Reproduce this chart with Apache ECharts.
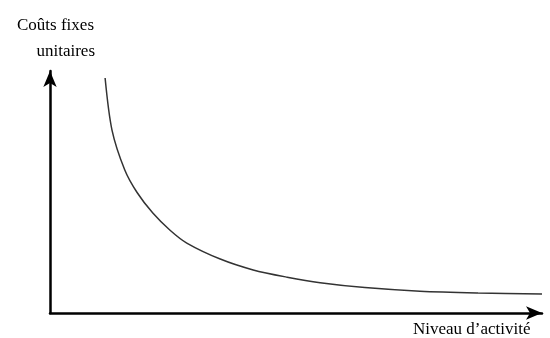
<!DOCTYPE html>
<html>
<head>
<meta charset="utf-8">
<script src="https://cdn.jsdelivr.net/npm/echarts@6/dist/echarts.min.js"></script>
<style>
  html, body { margin: 0; padding: 0; background: #fff; }
  #myChart { width: 550px; height: 338px; }
</style>
</head>
<body>
<!-- courbe des coûts fixes unitaires -->
<div id="myChart"></div>
<script>
// niveau d'activité (axe x, 0..100)
const activite = [11.2, 12.6, 15.2, 17.7, 20.9, 24.4, 27.8, 34.6, 41.3, 48.2, 54.9, 64.0, 75.2, 87.0, 100]
// coûts fixes unitaires (axe y, 0..100)
const couts = [97.1, 75.6, 59.1, 49.8, 41.3, 34.2, 28.9, 22.3, 17.8, 14.8, 12.5, 10.5, 9.0, 8.3, 7.9]
const yLabel = ['Coûts fixes', 'unitaires']
const xLabel = 'Niveau d\u2019activité'

const serif = '"Liberation Serif", "DejaVu Serif", serif'
const myChart = echarts.init(document.getElementById('myChart'))

myChart.setOption({
  animation: false,
  backgroundColor: '#fff',
  grid: {
    left: 50,
    right: 8,
    top: 71,
    bottom: 25
  },
  xAxis: {
    type: 'value',
    min: 0,
    max: 100,
    axisLine: {
      onZero: false,
      symbol: ['none', 'arrow'],
      symbolSize: [10, 16],
      lineStyle: { color: '#000', width: 2.5 }
    },
    axisTick: { show: false },
    axisLabel: { show: false },
    splitLine: { show: false }
  },
  yAxis: {
    type: 'value',
    min: 0,
    max: 100,
    axisLine: {
      show: true,
      onZero: false,
      symbol: ['none', 'arrow'],
      symbolSize: [10, 16],
      lineStyle: { color: '#000', width: 2.5 }
    },
    axisTick: { show: false },
    axisLabel: { show: false },
    splitLine: { show: false }
  },
  graphic: [
    {
      type: 'text',
      style: { x: 94, y: 17, text: yLabel[0], font: '17px ' + serif, fill: '#000', textAlign: 'right', textVerticalAlign: 'top' }
    },
    {
      type: 'text',
      style: { x: 95, y: 43, text: yLabel[1], font: '17px ' + serif, fill: '#000', textAlign: 'right', textVerticalAlign: 'top' }
    },
    {
      type: 'text',
      style: { x: 413, y: 321, text: xLabel, font: '17px ' + serif, fill: '#000', textAlign: 'left', textVerticalAlign: 'top' }
    }
  ],
  series: [{
    type: 'line',
    smooth: 0.3,
    showSymbol: false,
    lineStyle: { color: '#333', width: 1.5 },
    data: activite.map((x, i) => [x, couts[i]])
  }]
})
</script>
</body>
</html>
